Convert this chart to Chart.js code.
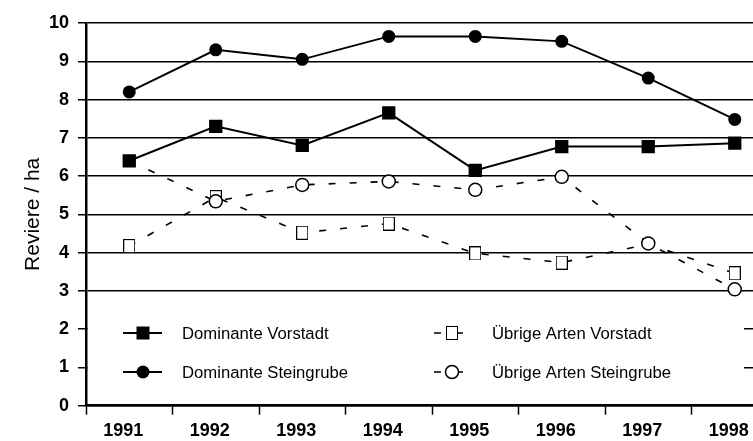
<!DOCTYPE html>
<html>
<head>
<meta charset="utf-8">
<script src="https://cdn.jsdelivr.net/npm/chart.js@4.4.1/dist/chart.umd.min.js"></script>
<style>
  html, body { margin: 0; padding: 0; background: #fff; overflow: hidden; }
</style>
</head>
<body>
<canvas id="myChart" width="790" height="441"></canvas>
<script>
const years = ['1991', '1992', '1993', '1994', '1995', '1996', '1997', '1998'];
const domVorstadt = [6.4, 7.3, 6.8, 7.65, 6.15, 6.77, 6.77, 6.86];
const domSteingrube = [8.2, 9.3, 9.05, 9.65, 9.65, 9.52, 8.56, 7.48];
const uebVorstadt = [4.17, 5.45, 4.52, 4.76, 3.98, 3.74, 4.22, 3.46];
const uebSteingrube = [6.4, 5.34, 5.77, 5.86, 5.64, 5.98, 4.24, 3.04];
const yMin = 0;
const yMax = 10;

// open rectangle marker (a bit taller than wide, like the original)
const openRect = document.createElement('canvas');
openRect.width = 12;
openRect.height = 14;
(function() {
  const c = openRect.getContext('2d');
  c.fillStyle = '#fff';
  c.fillRect(0, 0, 12, 14);
  c.strokeStyle = '#000';
  c.lineWidth = 1;
  c.strokeRect(0.5, 0.5, 11, 13);
})();

function drawMarker(ctx, kind, x, y) {
  ctx.save();
  ctx.setLineDash([]);
  if (kind === 'fillRect') {
    ctx.fillStyle = '#000';
    ctx.fillRect(x - 6.5, y - 6.5, 13, 13);
  } else if (kind === 'fillCircle') {
    ctx.fillStyle = '#000';
    ctx.beginPath();
    ctx.arc(x, y, 6.5, 0, Math.PI * 2);
    ctx.fill();
  } else if (kind === 'openRect') {
    ctx.drawImage(openRect, x - 6, y - 7);
  } else {
    ctx.fillStyle = '#fff';
    ctx.strokeStyle = '#000';
    ctx.lineWidth = 1.5;
    ctx.beginPath();
    ctx.arc(x, y, 6.5, 0, Math.PI * 2);
    ctx.fill();
    ctx.stroke();
  }
  ctx.restore();
}

// legend inside the plot, 2 x 2, on a white box
const boxLegend = {
  id: 'boxLegend',
  afterDraw(chart) {
    const ctx = chart.ctx;
    const area = chart.chartArea;
    const kinds = ['fillRect', 'fillCircle', 'openRect', 'openCircle'];
    ctx.save();
    ctx.fillStyle = '#fff';
    ctx.fillRect(area.left + 2, 302, 656, 101);
    ctx.font = '16.7px Arial, "Liberation Sans"';
    ctx.fillStyle = '#000';
    ctx.textBaseline = 'middle';
    chart.data.datasets.forEach((ds, i) => {
      const col = i < 2 ? 0 : 1;
      const row = i % 2;
      const y = 333 + row * 39;
      ctx.save();
      ctx.strokeStyle = '#000';
      ctx.lineWidth = ds.borderWidth;
      ctx.beginPath();
      if (col === 0) {
        ctx.moveTo(123, y); ctx.lineTo(162, y);
      } else {
        ctx.setLineDash([7, 15]);
        ctx.moveTo(434, y); ctx.lineTo(464, y);
      }
      ctx.stroke();
      ctx.restore();
      drawMarker(ctx, kinds[i], col === 0 ? 143 : 452, y);
      ctx.fillText(ds.label, col === 0 ? 182 : 492, y + 1);
    });
    ctx.restore();
  }
};

const ctx = document.getElementById('myChart').getContext('2d');
const myChart = new Chart(ctx, {
  type: 'line',
  data: {
    labels: years,
    datasets: [
      {
        label: 'Dominante Vorstadt',
        data: domVorstadt,
        borderColor: '#000',
        borderWidth: 2,
        pointStyle: 'rect',
        pointRadius: 9.4,
        pointBackgroundColor: '#000',
        pointBorderWidth: 0,
        order: 0,
      },
      {
        label: 'Dominante Steingrube',
        data: domSteingrube,
        borderColor: '#000',
        borderWidth: 2,
        pointStyle: 'circle',
        pointRadius: 6.5,
        pointBackgroundColor: '#000',
        pointBorderWidth: 0,
        order: 1,
      },
      {
        label: 'Übrige Arten Vorstadt',
        data: uebVorstadt,
        borderColor: '#000',
        borderWidth: 1.6,
        borderDash: [7, 14],
        pointStyle: openRect,
        // 1997 marker sits hidden behind the open circle in the original
        pointRadius: (c) => (c.dataIndex === 6 ? 0 : 6),
        order: 3,
      },
      {
        label: 'Übrige Arten Steingrube',
        data: uebSteingrube,
        borderColor: '#000',
        borderWidth: 1.6,
        borderDash: [7, 14],
        pointStyle: 'circle',
        // 1991 marker is covered by the filled square in the original
        pointRadius: (c) => (c.dataIndex === 0 ? 0 : 6.5),
        pointBackgroundColor: '#fff',
        pointBorderColor: '#000',
        pointBorderWidth: 1.5,
        order: 2,
      },
    ],
  },
  options: {
    responsive: false,
    animation: false,
    layout: { padding: { top: 23, right: 12, left: 0, bottom: 0 } },
    plugins: {
      legend: { display: false },
      tooltip: { enabled: false },
    },
    scales: {
      x: {
        type: 'category',
        offset: true,
        afterFit: (s) => { s.height = 35.3; },
        grid: {
          offset: true,
          drawOnChartArea: false,
          tickLength: 9,
          tickWidth: 1.5,
          tickColor: '#000',
          color: '#000',
        },
        border: { color: '#000', width: 2.5 },
        ticks: {
          color: '#000',
          font: { family: 'Arial, "Liberation Sans"', size: 18, weight: 'bold' },
          padding: 6,
          labelOffset: -6,
          maxRotation: 0,
          autoSkip: false,
        },
      },
      y: {
        min: yMin,
        max: yMax,
        afterFit: (s) => { s.width = 86; },
        grid: {
          color: '#000',
          lineWidth: 1.5,
          tickLength: 8,
          tickWidth: 1.5,
          tickColor: '#000',
        },
        border: { color: '#000', width: 2.5 },
        ticks: {
          stepSize: 1,
          color: '#000',
          font: { family: 'Arial, "Liberation Sans"', size: 18, weight: 'bold' },
          padding: 9,
        },
        title: {
          display: true,
          text: 'Reviere / ha',
          color: '#000',
          font: { family: 'Arial, "Liberation Sans"', size: 21 },
          padding: { top: 21, bottom: 0 },
        },
      },
    },
  },
  plugins: [boxLegend],
});
</script>
</body>
</html>
